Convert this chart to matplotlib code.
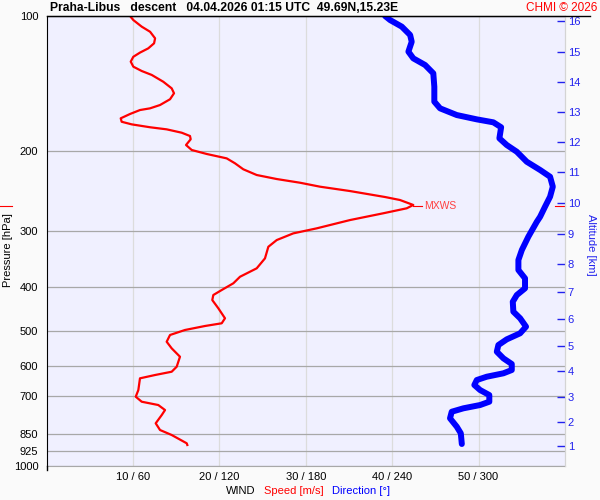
import matplotlib
matplotlib.use("Agg")
import matplotlib.pyplot as plt
from matplotlib.lines import Line2D
from matplotlib.ticker import NullLocator

plt.rcParams['font.family'] = ['Liberation Sans', 'DejaVu Sans']

# wind speed profile (pressure hPa / speed m/s)
speed_p = [100.0, 102.1, 105.6, 108.4, 112.1, 115.0, 118.0, 120.6, 123.2, 126.3,
           129.6, 132.5, 135.2, 140.0, 144.8, 148.5, 153.1, 157.7, 160.4, 161.8,
           165.1, 168.8, 171.8, 174.1, 176.7, 178.6, 181.7, 184.8, 187.9, 193.5,
           198.5, 202.6, 207.2, 212.5, 219.1, 225.6, 230.3, 234.7, 239.5, 244.9,
           252.5, 256.4, 263.0, 267.5, 274.4, 284.1, 296.4, 304.1, 314.7, 325.7,
           345.6, 363.7, 379.7, 392.6, 406.4, 416.9, 427.8, 446.2, 469.6, 481.8,
           488.5, 498.6, 511.5, 529.5, 547.7, 571.7, 601.7, 617.3, 627.8, 638.5,
           678.0, 701.5, 719.7, 732.0, 751.0, 770.4, 803.7, 831.8, 853.3, 890.3,
           898.1]
speed_ms = [9.66, 10.04, 11.01, 11.98, 12.56, 12.44, 11.77, 10.81, 10.04, 9.74,
            10.04, 11.01, 12.17, 13.51, 14.48, 14.75, 14.29, 13.13, 11.97, 10.81,
            9.66, 8.58, 8.69, 9.85, 11.97, 13.90, 15.64, 16.60, 16.68, 16.14,
            16.80, 18.54, 20.85, 21.81, 22.77, 24.32, 26.64, 29.34, 31.65, 35.12,
            39.18, 40.91, 42.45, 41.69, 38.98, 35.12, 31.27, 28.56, 26.64, 25.67,
            25.28, 24.32, 22.39, 21.62, 20.27, 19.30, 19.18, 19.88, 20.65, 20.27,
            18.34, 16.02, 14.29, 13.90, 14.48, 15.44, 15.06, 14.48, 12.55, 10.81,
            10.62, 10.32, 11.01, 12.93, 13.71, 13.33, 12.63, 13.13, 14.48, 16.22,
            16.29]

# wind direction profile (pressure hPa / degrees)
dir_p = [100.0, 102.1, 105.6, 110.2, 114.1, 120.0, 124.2, 128.5, 134.1, 143.6,
         155.0, 160.4, 166.0, 169.7, 172.3, 176.7, 187.0, 193.5, 200.3, 210.8,
         219.9, 227.6, 239.5, 252.1, 265.3, 279.3, 286.6, 309.4, 331.1, 348.5,
         366.8, 382.8, 402.9, 416.9, 431.5, 454.0, 469.6, 490.2, 507.1, 523.1,
         538.5, 557.2, 576.5, 593.4, 611.9, 622.3, 633.3, 644.1, 660.7, 678.0,
         695.5, 719.7, 732.0, 744.4, 757.5, 783.4, 817.9, 846.0, 893.5]
dir_deg = [235.1, 238.6, 246.7, 252.5, 253.6, 251.3, 254.7, 262.9, 268.6, 269.3,
           269.3, 273.3, 284.9, 298.8, 310.3, 315.7, 314.5, 319.6, 326.6, 333.5,
           342.8, 349.7, 351.6, 349.7, 346.2, 342.8, 340.5, 334.6, 330.1, 327.7,
           327.7, 332.3, 332.3, 326.6, 323.8, 324.2, 328.9, 333.0, 328.9, 319.6,
           313.8, 312.7, 317.3, 323.1, 323.1, 317.3, 305.7, 298.8, 297.1, 301.1,
           307.5, 307.5, 301.1, 289.5, 281.4, 280.2, 284.9, 287.7, 288.4]

# altitude scale (km -> pressure)
km_labels = [str(k) for k in range(1, 17)]
km_p = [901.5, 797.3, 703.6, 615.1, 541.2, 471.3, 410.0, 355.1, 305.6, 260.8,
        222.5, 190.9, 163.7, 140.4, 120.4, 102.7]

p_ticks = [100, 200, 300, 400, 500, 600, 700, 850, 925, 1000]
speed_ticks = [10, 20, 30, 40, 50]
speed_labels = ['10 / 60', '20 / 120', '30 / 180', '40 / 240', '50 / 300']

mxws_speed = 42.45
mxws_p = 265

title = 'Praha-Libus   descent   04.04.2026 01:15 UTC  49.69N,15.23E'

W, H = 600, 500
L, R, T, B = 46.6, 564.9, 16, 466

fig = plt.figure(figsize=(6, 5), dpi=100, facecolor='#fafafa')
ax = fig.add_axes([L / W, 1 - B / H, (R - L) / W, (B - T) / H])
ax.set_facecolor('#f0f0ff')
ax.set_yscale('log')
ax.set_ylim(1000, 100)
ax.set_xlim(0, 60)
ax.yaxis.set_minor_locator(NullLocator())
ax.set_yticks(p_ticks)
ax.set_yticklabels([str(p) for p in p_ticks])
ax.set_xticks(speed_ticks)
ax.set_xticklabels(speed_labels)
ax.tick_params(axis='both', length=0, labelsize=8)
ax.tick_params(axis='y', pad=6)
ax.tick_params(axis='x', pad=4)
ax.xaxis.grid(True, color='#dcdcdc', lw=0.9)
ax.yaxis.grid(True, color='#a8a8a8', lw=0.9)
ax.set_axisbelow(True)
ax.spines['left'].set_color('black')
ax.spines['top'].set_color('black')
ax.spines['bottom'].set_color('#a8a8a8')
ax.spines['right'].set_color('#d4d4d4')

ax.plot(speed_ms, speed_p, color='#ff0000', lw=1.6, solid_joinstyle='round', zorder=3)

# max wind marker
ax.plot([mxws_speed, mxws_speed + 1.0], [mxws_p, mxws_p], color='#ff0000', lw=0.8)
ax.text(mxws_speed + 1.3, mxws_p, 'MXWS', color='#ff4040', fontsize=7.5, va='center')
yt = ax.get_yaxis_transform()
ax.plot([-0.0899, -0.0668], [mxws_p, mxws_p], color='#ff0000', lw=0.8, transform=yt, clip_on=False)
ax.plot([0.981, 1.0], [mxws_p, mxws_p], color='#ff0000', lw=0.8, transform=yt, clip_on=False)

# direction on its own scale (0..360)
axd = ax.twiny()
axd.set_xlim(0, 360)
axd.set_xticks([])
for s in axd.spines.values():
    s.set_visible(False)
axd.plot(dir_deg, dir_p, color='#0000ff', lw=4.3, solid_capstyle='round',
         solid_joinstyle='round', zorder=3)

# altitude axis
axa = ax.twinx()
axa.set_yscale('log')
axa.set_ylim(1000, 100)
axa.yaxis.set_minor_locator(NullLocator())
axa.set_yticks(km_p)
axa.set_yticklabels(km_labels)
axa.tick_params(axis='y', direction='in', length=6, width=1, color='#2222ee',
                labelcolor='#2222ee', labelsize=8, pad=2)
for k in ['left', 'top', 'bottom']:
    axa.spines[k].set_visible(False)
axa.spines['right'].set_color('#d4d4d4')

# extended frame lines
fig.add_artist(Line2D([L / W, 590 / W], [1 - T / H, 1 - T / H], color='black', lw=1))
fig.add_artist(Line2D([L / W, L / W], [1 - B / H, 1 - 470 / H], color='black', lw=1))

fig.text(50 / W, 1 - 8 / H, title, fontsize=8.7, fontweight='bold', va='center')
fig.text(597 / W, 1 - 8 / H, 'CHMI © 2026', fontsize=8.5, color='#ff0000', ha='right', va='center')
fig.text(8 / W, 1 - 250 / H, 'Pressure [hPa]', fontsize=8, rotation=90, ha='center', va='center')
fig.text(591 / W, 1 - 245 / H, 'Altitude [km]', fontsize=8, rotation=270, ha='center', va='center',
         color='#2222ee')
fig.text(226 / W, 1 - 491 / H, 'WIND', fontsize=8, va='center')
fig.text(264 / W, 1 - 491 / H, 'Speed [m/s]', fontsize=8, va='center', color='#ff0000')
fig.text(332 / W, 1 - 491 / H, 'Direction [°]', fontsize=8, va='center', color='#0000ff')

fig.savefig('out.png', dpi=100, facecolor=fig.get_facecolor())
